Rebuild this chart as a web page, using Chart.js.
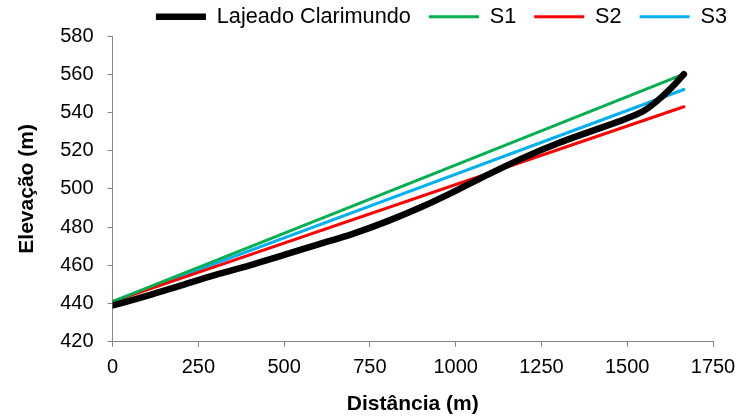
<!DOCTYPE html>
<html>
<head>
<meta charset="utf-8">
<script src="https://cdn.jsdelivr.net/npm/chart.js@4/dist/chart.umd.min.js"></script>
<style>
  html, body { margin: 0; padding: 0; background: #fff; }
  #wrap { width: 736px; height: 416px; position: relative; }
</style>
</head>
<body>
<div id="wrap"><canvas id="perfil"></canvas></div>
<script>
'use strict';

// ─── Data ─────────────────────────────────────────────────────
const distLajeado = [0, 100, 200, 300, 400, 500, 600, 700, 800, 900, 1000, 1100, 1200, 1300, 1400, 1500, 1550, 1600, 1640, 1665];
const elevLajeado = [439, 444, 449.5, 455, 460, 465.5, 471, 476.5, 483, 490.5, 499, 508, 516.5, 524, 530.5, 537, 541, 548, 555, 560];

const distS = [0, 1665];
const elevS1 = [441, 560];
const elevS2 = [441, 543];
const elevS3 = [441, 552];

const xTicks = [0, 250, 500, 750, 1000, 1250, 1500, 1750];
const yTicks = [420, 440, 460, 480, 500, 520, 540, 560, 580];

const toPoints = (xs, ys) => xs.map((x, i) => ({ x, y: ys[i] }));

// ─── Chart ────────────────────────────────────────────────────
const FONT = 'Liberation Sans, Arial, sans-serif';
const axisGrey = '#868686';

function lineSet(label, data, color, width) {
  return {
    label, data,
    borderColor: color,
    backgroundColor: color,
    borderWidth: width,
    borderCapStyle: 'round',
    borderJoinStyle: 'round',
    pointRadius: 0,
    pointStyle: 'line',
    fill: false,
  };
}

// legend sits a bit higher and further right than Chart.js puts it
const legendNudge = {
  id: 'legendNudge',
  afterLayout(chart) {
    const lg = chart.legend;
    if (!lg) return;
    lg.left += 9; lg.right += 9;
    lg.top -= 12;
  }
};

new Chart(document.getElementById('perfil'), {
  type: 'line',
  data: {
    datasets: [
      { ...lineSet('Lajeado Clarimundo', toPoints(distLajeado, elevLajeado), '#000000', 6.5),
        cubicInterpolationMode: 'monotone' },
      lineSet('S1', toPoints(distS, elevS1), '#00b050', 3),
      lineSet('S2', toPoints(distS, elevS2), '#ff0000', 3),
      lineSet('S3', toPoints(distS, elevS3), '#00b0f0', 3),
    ]
  },
  options: {
    responsive: true,
    maintainAspectRatio: false,
    animation: false,
    layout: { padding: { left: 15, right: 0, top: 0, bottom: -1 } },
    plugins: {
      legend: {
        display: true,
        position: 'top',
        align: 'end',
        maxHeight: 36,
        labels: {
          usePointStyle: true,
          pointStyleWidth: 50,
          boxHeight: 6,
          padding: 18,
          color: '#000',
          font: { family: FONT, size: 21.7 },
        }
      },
      tooltip: { enabled: false },
    },
    scales: {
      x: {
        type: 'linear',
        min: 0, max: 1750,
        afterBuildTicks: axis => { axis.ticks = xTicks.map(v => ({ value: v })); },
        afterFit: axis => { axis.paddingRight = 23; },
        border: { color: axisGrey, width: 1 },
        grid: { drawOnChartArea: false, color: axisGrey, tickLength: 5 },
        ticks: { color: '#000', font: { family: FONT, size: 20 }, padding: 9, maxRotation: 0,
                 callback: v => String(v) },
        title: { display: true, text: 'Distância (m)', color: '#000',
                 font: { family: FONT, size: 21, weight: 'bold' }, padding: { top: 3, bottom: 0 } },
      },
      y: {
        type: 'linear',
        min: 420, max: 580,
        afterBuildTicks: axis => { axis.ticks = yTicks.map(v => ({ value: v })); },
        border: { color: axisGrey, width: 1 },
        grid: { drawOnChartArea: false, color: axisGrey, tickLength: 5 },
        ticks: { color: '#000', font: { family: FONT, size: 20 }, padding: 14,
                 callback: v => String(v) },
        title: { display: true, text: 'Elevação (m)', color: '#000',
                 font: { family: FONT, size: 21, weight: 'bold' }, padding: { top: 0, bottom: 6 } },
      }
    }
  },
  plugins: [legendNudge]
});
</script>
</body>
</html>
